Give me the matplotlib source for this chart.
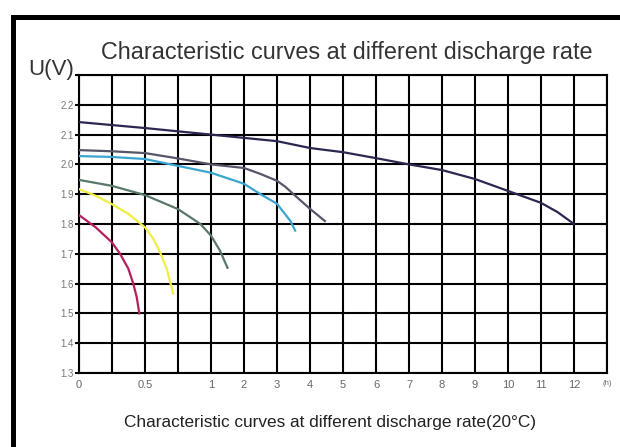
import numpy as np
import matplotlib
matplotlib.use("Agg")
import matplotlib.pyplot as plt
from matplotlib.patches import Rectangle

plt.rcParams['font.family'] = ['Liberation Sans', 'DejaVu Sans']

# discharge time (h) and voltage (V)
t_12h = [0, 0.5, 1, 2, 3, 4, 5, 6, 7, 8, 9, 10, 11, 11.5, 12]
v_12h = [2.142, 2.122, 2.10, 2.089, 2.078, 2.055, 2.041, 2.021, 2.0, 1.981, 1.951, 1.911, 1.871, 1.84, 1.80]

t_4h = [0, 0.25, 0.5, 0.75, 1, 2, 2.5, 3, 3.25, 3.5, 4, 4.45]
v_4h = [2.048, 2.044, 2.038, 2.02, 2.0, 1.988, 1.968, 1.945, 1.925, 1.90, 1.851, 1.81]

t_3h = [0, 0.25, 0.5, 0.75, 1, 2, 2.5, 3, 3.4, 3.55]
v_3h = [2.028, 2.025, 2.018, 1.995, 1.972, 1.935, 1.90, 1.868, 1.811, 1.778]

t_1h = [0, 0.25, 0.5, 0.75, 0.92, 1, 1.27, 1.5]
v_1h = [1.948, 1.928, 1.897, 1.85, 1.80, 1.761, 1.711, 1.653]

t_07 = [0, 0.126, 0.248, 0.374, 0.5, 0.563, 0.614, 0.664, 0.714]
v_07 = [1.917, 1.895, 1.867, 1.834, 1.789, 1.75, 1.705, 1.65, 1.566]

t_05 = [0, 0.126, 0.248, 0.311, 0.374, 0.411, 0.437, 0.457]
v_05 = [1.83, 1.789, 1.739, 1.70, 1.65, 1.60, 1.555, 1.50]

x_grid = [0, 0.25, 0.5, 0.75, 1, 2, 3, 4, 5, 6, 7, 8, 9, 10, 11, 12, 13]
x_labels = ['0', '', '0.5', '', '1', '2', '3', '4', '5', '6', '7', '8', '9', '10', '11', '12', '(h)']
y_grid = [1.3, 1.4, 1.5, 1.6, 1.7, 1.8, 1.9, 2.0, 2.1, 2.2, 2.3]
y_labels = ['1.3', '1.4', '1.5', '1.6', '1.7', '1.8', '1.9', '2.0', '2.1', '2.2', '']


def fwd(t):
    t = np.asarray(t, dtype=float)
    return np.where(t <= 1, 4 * t, t + 3)


def inv(p):
    p = np.asarray(p, dtype=float)
    return np.where(p <= 4, p / 4, p - 3)


fig = plt.figure(figsize=(6.2, 4.47), dpi=100)
ax = fig.add_axes([79 / 620, 74 / 447, 528 / 620, 298 / 447])
ax.set_xscale('function', functions=(fwd, inv))
ax.set_xlim(0, 13)
ax.set_ylim(1.3, 2.3)

ax.set_xticks(x_grid)
ax.set_xticklabels(x_labels)
ax.set_yticks(y_grid)
ax.set_yticklabels(y_labels)
ax.minorticks_off()
ax.grid(True, color='black', linewidth=1.5, zorder=1)
for s in ax.spines.values():
    s.set_linewidth(1.5)
ax.tick_params(axis='x', length=0, pad=5, labelsize=8, labelcolor='#666666')
ax.tick_params(axis='y', length=3, width=1.5, pad=1, labelsize=7, labelcolor='#777777')
for lab in ax.get_xticklabels():
    if lab.get_text() == '(h)':
        lab.set_fontsize(5.5)

lw = 1.6
ax.plot(t_12h, v_12h, color='#2b2850', lw=lw, zorder=3)
ax.plot(t_4h, v_4h, color='#56566a', lw=lw, zorder=3)
ax.plot(t_3h, v_3h, color='#3aa6cf', lw=lw, zorder=3)
ax.plot(t_1h, v_1h, color='#587868', lw=lw, zorder=3)
ax.plot(t_07, v_07, color='#eeee44', lw=lw, zorder=3)
ax.plot(t_05, v_05, color='#b3205e', lw=lw, zorder=3)

fig.text(347 / 620, 1 - 53 / 447, 'Characteristic curves at different discharge rate',
         ha='center', va='center', fontsize=16.8, color='#333333')
fig.text(51 / 620, 1 - 70 / 447, 'U(V)', ha='center', va='center', fontsize=16, color='#333333')
fig.text(330 / 620, 1 - 423 / 447, 'Characteristic curves at different discharge rate(20°C)',
         ha='center', va='center', fontsize=12.4, color='#222222')

# black frame (cut off at the right and bottom)
fig.add_artist(Rectangle((12.5 / 620, -0.2), 1.3, 1.2 - 16.5 / 447, transform=fig.transFigure,
                         fill=False, edgecolor='black', linewidth=3.6))

fig.savefig('out.png', dpi=100)
